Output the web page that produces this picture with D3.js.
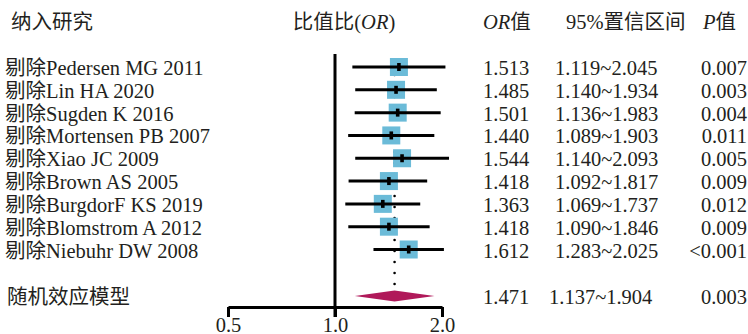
<!DOCTYPE html>
<html lang="zh">
  <head>
    <meta charset="utf-8">
    <title>敏感性分析森林图</title>
    <script type="text/javascript" src="https://d3js.org/d3.v7.min.js" charset="utf-8"></script>
    <style type="text/css">
      body { margin: 0; background: #fff; }
      svg text {
        font-family: "Liberation Serif", "Noto Sans CJK SC", serif;
        font-size: 20.5px;
        fill: #231f20;
      }
      .axis path, .axis line {
        stroke: #000;
        stroke-width: 3px;
      }
    </style>
  </head>
  <body>
<script type="text/javascript">

// data
var studies = ["Pedersen MG 2011", "Lin HA 2020", "Sugden K 2016", "Mortensen PB 2007",
               "Xiao JC 2009", "Brown AS 2005", "BurgdorF KS 2019", "Blomstrom A 2012", "Niebuhr DW 2008"];
var orVals = [1.513, 1.485, 1.501, 1.440, 1.544, 1.418, 1.363, 1.418, 1.612];
var ciLow  = [1.119, 1.140, 1.136, 1.089, 1.140, 1.092, 1.069, 1.090, 1.283];
var ciHigh = [2.045, 1.934, 1.983, 1.903, 2.093, 1.817, 1.737, 1.846, 2.025];
var pVals  = ["0.007", "0.003", "0.004", "0.011", "0.005", "0.009", "0.012", "0.009", "<0.001"];

var pooledLabel = "随机效应模型";
var pooledOR = 1.471, pooledLow = 1.137, pooledHigh = 1.904, pooledP = "0.003";

var tickVals = [0.5, 1.0, 2.0];

var width = 748, height = 334;

var svg = d3.select("body").append("svg")
    .attr("width", width)
    .attr("height", height);

// log2 scale, 0.5 .. 2
var x = d3.scaleLog().base(2)
    .domain([0.5, 2])
    .range([228, 442]);

var y = d3.scalePoint()
    .domain(studies)
    .range([67, 249.5]);

var yPooled = 296;
var axisY = 307;

// headers
svg.append("text").attr("x", 11).attr("y", 29).text("纳入研究");
svg.append("text").attr("x", 344).attr("y", 29).attr("text-anchor", "middle")
   .html('比值比(<tspan font-style="italic">OR</tspan>)');
svg.append("text").attr("x", 483).attr("y", 29)
   .html('<tspan font-style="italic">OR</tspan>值');
svg.append("text").attr("x", 566).attr("y", 29).text("95%置信区间");
svg.append("text").attr("x", 703).attr("y", 29)
   .html('<tspan font-style="italic">P</tspan>值');

// reference line at OR = 1
svg.append("line")
    .attr("x1", x(1)).attr("x2", x(1))
    .attr("y1", 54).attr("y2", axisY + 10)
    .attr("stroke", "#000").attr("stroke-width", 3);

// dotted line at pooled estimate
svg.append("line")
    .attr("x1", x(pooledOR)).attr("x2", x(pooledOR))
    .attr("y1", 75).attr("y2", 285)
    .attr("stroke", "#000").attr("stroke-width", 2.6)
    .attr("stroke-linecap", "round")
    .attr("stroke-dasharray", "0,11");

var rows = svg.append("g").selectAll("g")
    .data(studies)
    .join("g")
    .attr("transform", d => `translate(0,${y(d)})`);

rows.append("rect")
    .attr("x", (d, i) => x(orVals[i]) - 9)
    .attr("y", -9)
    .attr("width", 18).attr("height", 18)
    .attr("fill", "#6bbbd8");

rows.append("line")
    .attr("x1", (d, i) => x(ciLow[i]))
    .attr("x2", (d, i) => x(ciHigh[i]))
    .attr("stroke", "#000").attr("stroke-width", 3);

rows.append("rect")
    .attr("x", (d, i) => x(orVals[i]) - 1.8)
    .attr("y", -4)
    .attr("width", 3.6).attr("height", 8)
    .attr("fill", "#000");

rows.append("text")
    .attr("x", 5).attr("y", 8)
    .text(d => "剔除" + d);

rows.append("text")
    .attr("x", 483).attr("y", 8)
    .text((d, i) => orVals[i].toFixed(3));

rows.append("text")
    .attr("x", 555).attr("y", 8)
    .text((d, i) => ciLow[i].toFixed(3) + "~" + ciHigh[i].toFixed(3));

rows.append("text")
    .attr("x", 747).attr("y", 8).attr("text-anchor", "end")
    .text((d, i) => pVals[i]);

// pooled diamond
svg.append("path")
    .attr("d", `M${x(pooledLow)},${yPooled} L${x(pooledOR)},${yPooled - 5.5} L${x(pooledHigh)},${yPooled} L${x(pooledOR)},${yPooled + 5.5} Z`)
    .attr("fill", "#b0195a");

svg.append("text").attr("x", 7).attr("y", yPooled + 8).text(pooledLabel);
svg.append("text").attr("x", 483).attr("y", yPooled + 8).text(pooledOR.toFixed(3));
svg.append("text").attr("x", 549).attr("y", yPooled + 8)
   .text(pooledLow.toFixed(3) + "~" + pooledHigh.toFixed(3));
svg.append("text").attr("x", 747).attr("y", yPooled + 8).attr("text-anchor", "end").text(pooledP);

// x axis
var gx = svg.append("g")
    .attr("class", "axis")
    .attr("transform", `translate(0,${axisY})`)
    .call(d3.axisBottom(x).tickValues(tickVals).tickSize(10).tickSizeOuter(0)
        .tickFormat(d3.format(".1f")));

gx.selectAll(".tick text")
    .attr("y", 25).attr("dy", 0)
    .style("font-size", "20.5px");
gx.attr("font-size", null).attr("font-family", null);

</script>
  </body>
</html>
